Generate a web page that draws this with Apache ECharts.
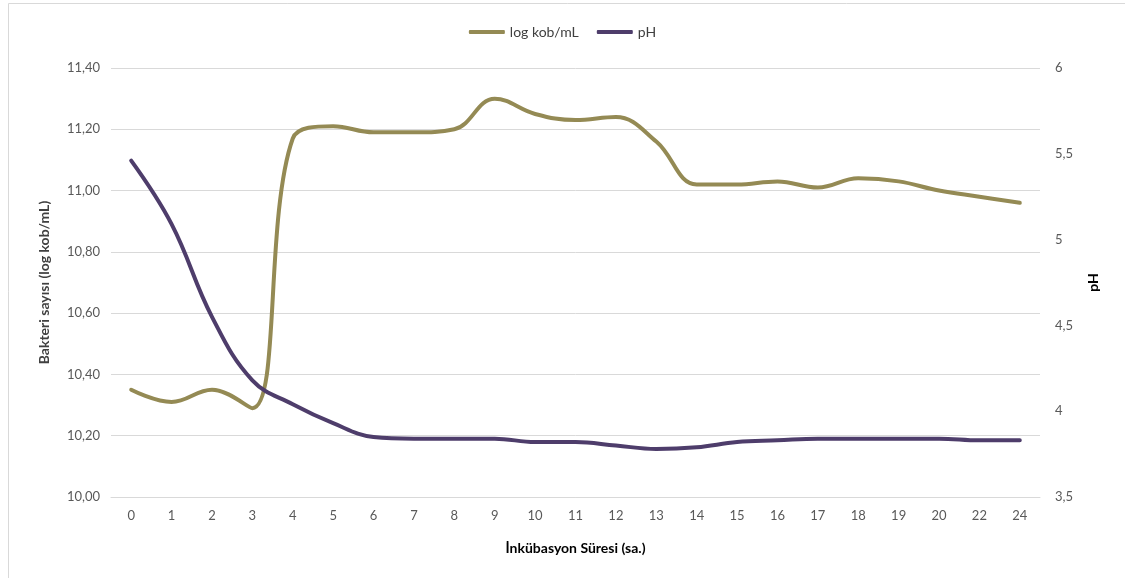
<!DOCTYPE html>
<html>
<head>
<meta charset="utf-8">
<script src="https://cdn.jsdelivr.net/npm/echarts@6/dist/echarts.min.js"></script>
<style>
  html, body { margin: 0; padding: 0; background: #ffffff; }
  #chart { width: 1125px; height: 578px; }
</style>
</head>
<body>
<div id="chart"></div>
<script>
// Incubation time (hours)
const hours = ['0','1','2','3','4','5','6','7','8','9','10','11','12','13','14','15','16','17','18','19','20','22','24'];
// Bacterial count, log CFU/mL
const logCount = [10.35, 10.31, 10.35, 10.29, 11.17, 11.21, 11.19, 11.19, 11.20, 11.30, 11.25, 11.23, 11.24, 11.16, 11.02, 11.02, 11.03, 11.01, 11.04, 11.03, 11.00, 10.98, 10.96];
// pH
const phValues = [5.46, 5.09, 4.55, 4.18, 4.04, 3.93, 3.85, 3.84, 3.84, 3.84, 3.82, 3.82, 3.80, 3.78, 3.79, 3.82, 3.83, 3.84, 3.84, 3.84, 3.84, 3.83, 3.83];

const FONT = 'Lato, "Open Sans", sans-serif';
const OLIVE = '#948A54';
const PURPLE = '#4E3D6B';
const GRID_COLOR = '#d9d9d9';
const LABEL_COLOR = '#595959';

const chart = echarts.init(document.getElementById('chart'), null, { renderer: 'canvas' });

chart.setOption({
  backgroundColor: '#ffffff',
  animation: false,
  textStyle: { fontFamily: FONT },
  graphic: [{
    type: 'rect',
    shape: { x: 8.5, y: 3.5, width: 1130, height: 590 },
    style: { fill: 'none', stroke: GRID_COLOR, lineWidth: 1 },
    silent: true, z: -1
  }],
  legend: {
    top: 20,
    left: 'center',
    icon: 'roundRect',
    itemWidth: 36,
    itemHeight: 4,
    itemGap: 18,
    textStyle: { fontFamily: FONT, fontSize: 14, color: '#404040' },
    data: ['log kob/mL', 'pH']
  },
  grid: { left: 111, right: 85, top: 68, bottom: 81, containLabel: false },
  xAxis: {
    type: 'category',
    data: hours,
    boundaryGap: true,
    name: 'İnkübasyon Süresi (sa.)',
    nameLocation: 'middle',
    nameGap: 44,
    nameTextStyle: { fontFamily: FONT, fontSize: 14, fontWeight: 'bold', color: '#000000' },
    axisLine: { show: true, lineStyle: { color: GRID_COLOR, width: 1 } },
    axisTick: { show: false },
    axisLabel: { color: LABEL_COLOR, fontSize: 13, margin: 12, fontFamily: FONT }
  },
  yAxis: [{
    type: 'value',
    min: 10,
    max: 11.4,
    interval: 0.2,
    position: 'left',
    name: 'Bakteri sayısı (log kob/mL)',
    nameLocation: 'middle',
    nameRotate: 90,
    nameGap: 60,
    nameTextStyle: { fontFamily: FONT, fontSize: 14, fontWeight: 'bold', color: '#404040' },
    axisLine: { show: false },
    axisTick: { show: false },
    splitLine: { show: true, lineStyle: { color: GRID_COLOR, width: 1 } },
    axisLabel: {
      color: LABEL_COLOR, fontSize: 13, margin: 11, fontFamily: FONT,
      formatter: v => v.toFixed(2).replace('.', ',')
    }
  }, {
    type: 'value',
    min: 3.5,
    max: 6,
    interval: 0.5,
    position: 'right',
    name: 'pH',
    nameLocation: 'middle',
    nameRotate: 90,
    nameGap: 46,
    nameTextStyle: { fontFamily: FONT, fontSize: 14, fontWeight: 'bold', color: '#000000' },
    axisLine: { show: false },
    axisTick: { show: false },
    splitLine: { show: false },
    axisLabel: {
      color: LABEL_COLOR, fontSize: 13, margin: 15, fontFamily: FONT,
      formatter: v => String(v).replace('.', ',')
    }
  }],
  series: [{
    name: 'log kob/mL',
    type: 'line',
    yAxisIndex: 0,
    data: logCount,
    smooth: 0.4,
    symbol: 'none',
    lineStyle: { color: OLIVE, width: 4, cap: 'round' },
    itemStyle: { color: OLIVE }
  }, {
    name: 'pH',
    type: 'line',
    yAxisIndex: 1,
    data: phValues,
    smooth: 0.4,
    symbol: 'none',
    lineStyle: { color: PURPLE, width: 4, cap: 'round' },
    itemStyle: { color: PURPLE }
  }]
});
</script>
</body>
</html>
